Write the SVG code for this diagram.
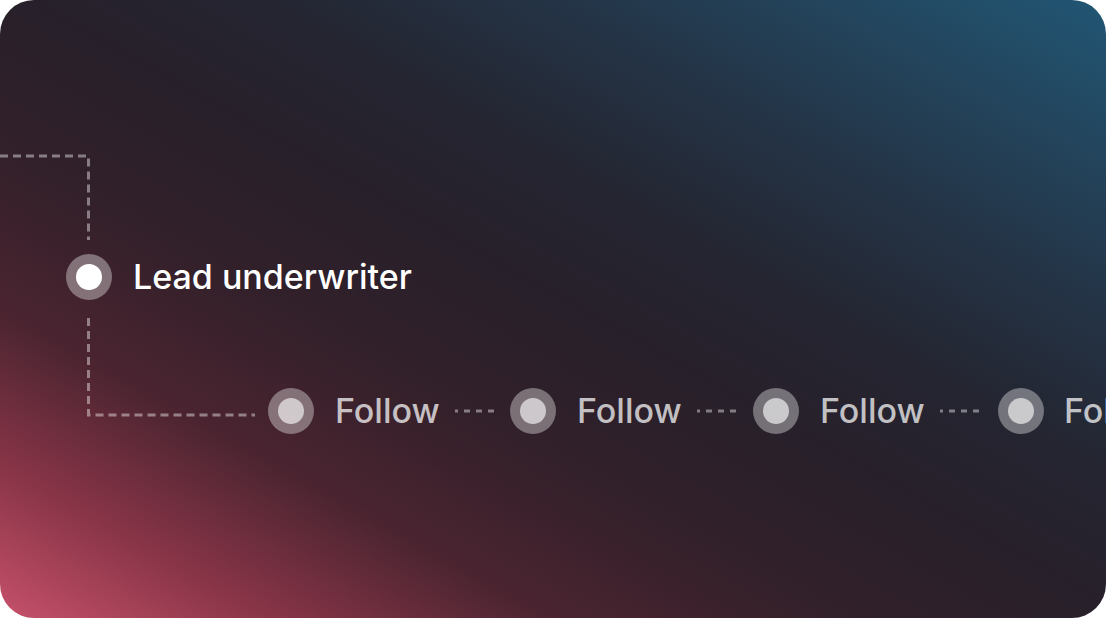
<svg xmlns="http://www.w3.org/2000/svg" width="1106" height="618" viewBox="0 0 1106 618">
  <defs>
    <linearGradient id="bg" gradientUnits="userSpaceOnUse" x1="289.8" y1="780" x2="816.2" y2="-162">
      <stop offset="0" stop-color="#c6516b"/>
      <stop offset="0.12" stop-color="#8a3548"/>
      <stop offset="0.25" stop-color="#4a2430"/>
      <stop offset="0.38" stop-color="#32202a"/>
      <stop offset="0.5" stop-color="#28202a"/>
      <stop offset="0.62" stop-color="#242531"/>
      <stop offset="0.75" stop-color="#243446"/>
      <stop offset="0.88" stop-color="#23465e"/>
      <stop offset="1" stop-color="#215674"/>
    </linearGradient>
    <clipPath id="card"><rect x="0" y="0" width="1106" height="618" rx="34"/></clipPath>
  </defs>
  <style>
    .conn { fill: none; stroke: #ffffff; stroke-opacity: 0.42; stroke-width: 3; stroke-dasharray: 8 5; }
    .short { stroke-dasharray: 6 6; }
    .ring { fill: #ffffff; fill-opacity: 0.36; }
    .dot-lead { fill: #ffffff; }
    .dot { fill: #ffffff; fill-opacity: 0.62; }
    .lbl-lead { font-family: Inter, "Liberation Sans", sans-serif; font-size: 34px; font-weight: 500; fill: #ffffff; }
    .lbl { font-family: Inter, "Liberation Sans", sans-serif; font-size: 34px; font-weight: 500; fill: #ffffff; fill-opacity: 0.72; }
  </style>
  <rect x="0" y="0" width="1106" height="618" fill="#ffffff"/>
  <rect x="0" y="0" width="1106" height="618" rx="34" fill="url(#bg)"/>
  <g clip-path="url(#card)">
    <g id="connectors">
      <path class="conn" d="M0 156 H88.5 V240"/>
      <path class="conn" d="M88.5 318 V415 H255"/>
      <path class="conn short" d="M455 411 H498" stroke-dashoffset="3"/>
      <path class="conn short" d="M697 411 H740" stroke-dashoffset="3"/>
      <path class="conn short" d="M940 411 H983" stroke-dashoffset="3"/>
    </g>
    <g id="lead">
      <circle class="ring" cx="89" cy="277" r="23"/>
      <circle class="dot-lead" cx="89" cy="277" r="13"/>
      <text class="lbl-lead" x="133" y="289">Lead underwriter</text>
    </g>
    <g id="follow1">
      <circle class="ring" cx="291" cy="411" r="23"/>
      <circle class="dot" cx="291" cy="411" r="13"/>
      <text class="lbl" x="335" y="423">Follow</text>
    </g>
    <g id="follow2">
      <circle class="ring" cx="533" cy="411" r="23"/>
      <circle class="dot" cx="533" cy="411" r="13"/>
      <text class="lbl" x="577" y="423">Follow</text>
    </g>
    <g id="follow3">
      <circle class="ring" cx="776" cy="411" r="23"/>
      <circle class="dot" cx="776" cy="411" r="13"/>
      <text class="lbl" x="820" y="423">Follow</text>
    </g>
    <g id="follow4">
      <circle class="ring" cx="1021" cy="411" r="23"/>
      <circle class="dot" cx="1021" cy="411" r="13"/>
      <text class="lbl" x="1064" y="423">Follow</text>
    </g>
  </g>
</svg>
